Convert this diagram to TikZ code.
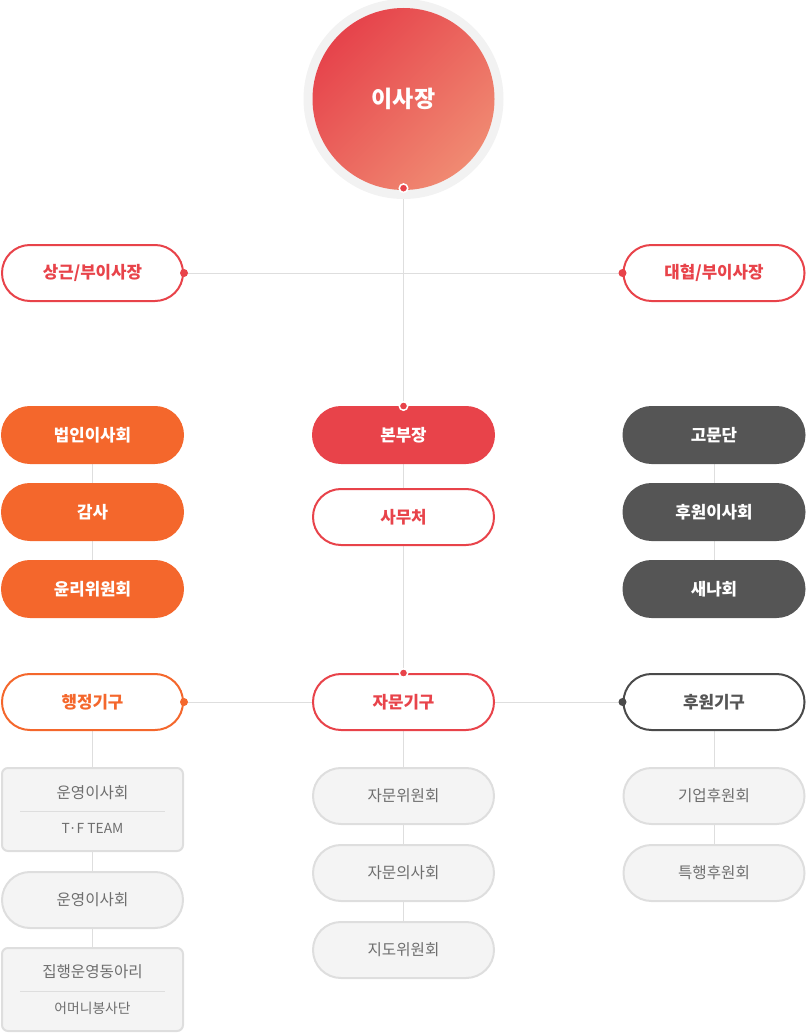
\documentclass[tikz,border=0pt]{standalone}
\usepackage{fontspec}
\setmainfont{Noto Sans CJK KR}
\usetikzlibrary{backgrounds}
\definecolor{cred}{HTML}{E8434A}
\definecolor{corange}{HTML}{F4672C}
\definecolor{cdark}{HTML}{555555}
\definecolor{cdarkline}{HTML}{4A4A4A}
\definecolor{cgreyfill}{HTML}{F4F4F4}
\definecolor{cgreyline}{HTML}{DEDEDE}
\definecolor{cgreytext}{HTML}{6E6E6E}
\definecolor{cring}{HTML}{F2F2F2}
\definecolor{cgradA}{HTML}{E6434B}
\definecolor{cgradB}{HTML}{F08A72}
\begin{document}
\begin{tikzpicture}[x=1pt,y=-1pt,
  pill/.style={rectangle, rounded corners=27.9pt, minimum width=181pt, minimum height=56pt,
    inner sep=0pt, line width=2pt, font=\fontsize{16.8}{20}\bfseries\selectfont},
  redout/.style={pill, draw=cred, fill=white, text=cred},
  orangeout/.style={pill, draw=corange, fill=white, text=corange},
  darkout/.style={pill, draw=cdarkline, fill=white, text=cdark},
  redfill/.style={pill, draw=cred, fill=cred, text=white},
  orangefill/.style={pill, draw=corange, fill=corange, text=white},
  darkfill/.style={pill, draw=cdark, fill=cdark, text=white},
  greypill/.style={pill, draw=cgreyline, fill=cgreyfill, text=cgreytext,
    font=\fontsize{15.6}{18}\selectfont},
  greybox/.style={rectangle, rounded corners=6pt, minimum width=181pt, minimum height=83pt,
    inner sep=0pt, line width=2pt, draw=cgreyline, fill=cgreyfill},
  boxtitle/.style={inner sep=0pt, text=cgreytext, font=\fontsize{15.6}{18}\selectfont},
  boxsub/.style={inner sep=0pt, text=cgreytext, font=\fontsize{13.8}{16}\selectfont},
  conn/.style={draw=cgreyline, line width=1pt},
  sidedot/.style={circle, inner sep=0pt, minimum size=8pt, fill=#1},
  ringdot/.style={circle, inner sep=0pt, minimum size=8.5pt, fill=#1, draw=white, line width=1.5pt}
]
\useasboundingbox (0,0) rectangle (807,1033);

% top circle
\node[circle, minimum size=200pt, inner sep=0pt, fill=cring] (ring) at (403.5,99) {};
\node[circle, minimum size=182pt, inner sep=0pt, top color=cgradA, bottom color=cgradB,
  shading angle=45, text=white, font=\fontsize{23}{27}\bfseries\selectfont] (ceo) at (403.5,99) {이사장};

% vice chairmen
\node[redout] (sg) at (92.5,273) {상근/부이사장};
\node[redout] (dh) at (714,273) {대협/부이사장};

% filled rows
\node[orangefill] (f1) at (92.5,435) {법인이사회};
\node[orangefill] (f2) at (92.5,512) {감사};
\node[orangefill] (f3) at (92.5,589) {윤리위원회};
\node[redfill] (bonbu) at (403.5,435) {본부장};
\node[redout] (samu) at (403.5,517) {사무처};
\node[darkfill] (k1) at (714,435) {고문단};
\node[darkfill] (k2) at (714,512) {후원이사회};
\node[darkfill] (k3) at (714,589) {새나회};

% organs
\node[orangeout] (haeng) at (92.5,702) {행정기구};
\node[redout] (jamun) at (403.5,702) {자문기구};
\node[darkout] (huwon) at (714,702) {후원기구};

% left column
\node[greybox] (box1) at (92.5,809.5) {};
\node[boxtitle] (box1a) at ([yshift=16.5pt]box1.center) {운영이사회};
\node[boxsub] (box1b) at ([yshift=-18.5pt]box1.center) {T·F TEAM};
\draw[cgreyline, line width=1pt] ([xshift=-72.5pt,yshift=-1.5pt]box1.center) -- ([xshift=72.5pt,yshift=-1.5pt]box1.center);
\node[greypill] (lp) at (92.5,900) {운영이사회};
\node[greybox] (box2) at (92.5,989.5) {};
\node[boxtitle] (box2a) at ([yshift=17.5pt]box2.center) {집행운영동아리};
\node[boxsub] (box2b) at ([yshift=-18.5pt]box2.center) {어머니봉사단};
\draw[cgreyline, line width=1pt] ([xshift=-72.5pt,yshift=-1.5pt]box2.center) -- ([xshift=72.5pt,yshift=-1.5pt]box2.center);

% center column
\node[greypill] (g1) at (403.5,796) {자문위원회};
\node[greypill] (g2) at (403.5,873) {자문의사회};
\node[greypill] (g3) at (403.5,950) {지도위원회};

% right column
\node[greypill] (r1) at (714,796) {기업후원회};
\node[greypill] (r2) at (714,873) {특행후원회};

% connectors
\begin{pgfonlayer}{background}
\draw[conn] (ceo.south) -- (bonbu.north);
\draw[conn] (sg.east) -- (dh.west);
\draw[conn] (f1) -- (f2) -- (f3);
\draw[conn] (k1) -- (k2) -- (k3);
\draw[conn] (bonbu) -- (samu) -- (jamun);
\draw[conn] (haeng.east) -- (huwon.west);
\draw[conn] (haeng) -- (box1) -- (lp) -- (box2);
\draw[conn] (jamun) -- (g1) -- (g2) -- (g3);
\draw[conn] (huwon) -- (r1) -- (r2);
\end{pgfonlayer}

% dots
\node[ringdot=cred] (d0) at ([yshift=2pt]ceo.south) {};
\node[ringdot=cred] (d1) at (bonbu.north) {};
\node[ringdot=cred] (d2) at (jamun.north) {};
\node[sidedot=cred] (d3) at (sg.east) {};
\node[sidedot=cred] (d4) at (dh.west) {};
\node[sidedot=corange] (d5) at (haeng.east) {};
\node[sidedot=cdarkline] (d6) at (huwon.west) {};
\end{tikzpicture}
\end{document}
